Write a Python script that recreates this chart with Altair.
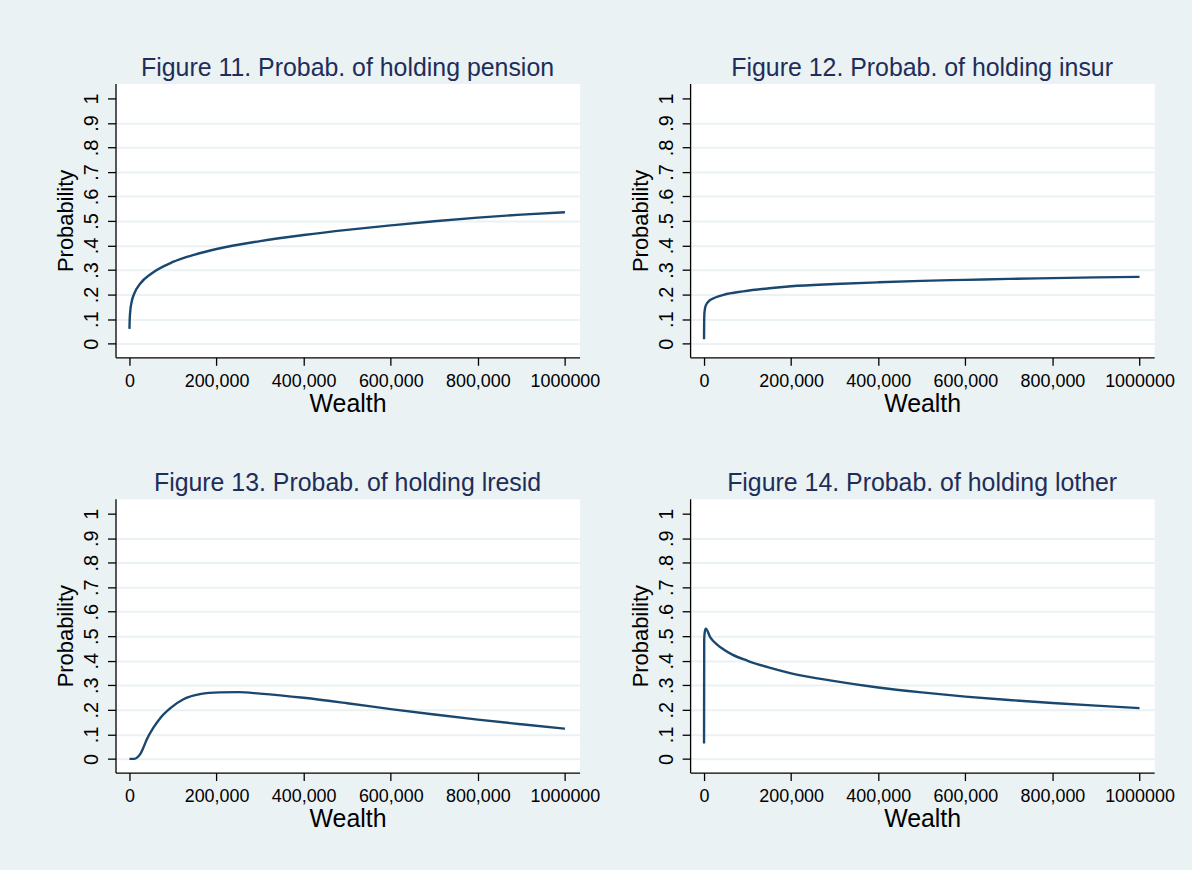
import altair as alt
import pandas as pd

# Predicted probabilities of holding each asset, by wealth
pension_wealth = [0, 500, 2000, 5000, 10000, 25000, 50000, 100000, 150000, 200000,
                  300000, 400000, 500000, 600000, 700000, 800000, 900000, 1000000]
pension_prob = [0.06, 0.095, 0.135, 0.17, 0.20, 0.245, 0.285, 0.333, 0.363, 0.386,
                0.418, 0.443, 0.464, 0.482, 0.499, 0.514, 0.526, 0.536]

insur_wealth = [0, 300, 1000, 4000, 13000, 26000, 45000, 90000, 150000, 200000,
                300000, 400000, 500000, 600000, 700000, 800000, 900000, 1000000]
insur_prob = [0.018, 0.09, 0.128, 0.156, 0.176, 0.188, 0.199, 0.213, 0.226, 0.234,
              0.243, 0.25, 0.256, 0.26, 0.264, 0.267, 0.27, 0.272]

lresid_wealth = [0, 11000, 18000, 25000, 32000, 40000, 55000, 71000, 94000, 124000,
                 162000, 208000, 250000, 300000, 400000, 500000, 600000, 700000,
                 800000, 900000, 1000000]
lresid_prob = [0, 0, 0.006, 0.02, 0.046, 0.08, 0.127, 0.167, 0.207, 0.243,
               0.264, 0.271, 0.272, 0.266, 0.249, 0.227, 0.203, 0.181,
               0.16, 0.141, 0.123]

lother_wealth = [0, 400, 1500, 4000, 14000, 30000, 45000, 65000, 100000, 150000,
                 200000, 300000, 400000, 500000, 600000, 700000, 800000, 900000, 1000000]
lother_prob = [0.063, 0.487, 0.515, 0.531, 0.497, 0.466, 0.446, 0.425, 0.400, 0.372,
               0.349, 0.317, 0.291, 0.271, 0.254, 0.24, 0.228, 0.217, 0.207]

titles = [
    "Figure 11. Probab. of holding pension",
    "Figure 12. Probab. of holding insur",
    "Figure 13. Probab. of holding lresid",
    "Figure 14. Probab. of holding lother",
]

x_ticks = [0, 200000, 400000, 600000, 800000, 1000000]
y_ticks = [0, 0.1, 0.2, 0.3, 0.4, 0.5, 0.6, 0.7, 0.8, 0.9, 1]

NAVY = "#1A476F"
GRID = "#EAF2F3"
BG = "#EAF2F3"
TITLE_COLOR = "#1E2D5A"
FONT = "Liberation Sans"


def panel(title, wealth, prob):
    df = pd.DataFrame({"Wealth": wealth, "Probability": prob})
    return (
        alt.Chart(df, title=alt.Title(title))
        .mark_line(color=NAVY, strokeWidth=2.4, interpolate="monotone")
        .encode(
            x=alt.X(
                "Wealth:Q",
                scale=alt.Scale(domain=[-32000, 1033600], nice=False, zero=False),
                axis=alt.Axis(
                    values=x_ticks,
                    grid=False,
                    title="Wealth",
                    labelExpr="datum.value >= 1000000 ? '1000000' : format(datum.value, ',')",
                ),
            ),
            y=alt.Y(
                "Probability:Q",
                scale=alt.Scale(domain=[-0.056, 1.061], nice=False, zero=False),
                axis=alt.Axis(
                    values=y_ticks,
                    grid=True,
                    gridColor=GRID,
                    gridWidth=2,
                    gridOpacity={"condition": {"test": "datum.value >= 1", "value": 0}, "value": 1},
                    title="Probability",
                    labelExpr="datum.value == 0 ? '0' : datum.value >= 1 ? '1' : "
                              "replace(format(datum.value, '.1f'), '0.', '.')",
                ),
            ),
        )
        .properties(width=466, height=275)
    )


chart = (
    alt.concat(
        panel(titles[0], pension_wealth, pension_prob),
        panel(titles[1], insur_wealth, insur_prob),
        panel(titles[2], lresid_wealth, lresid_prob),
        panel(titles[3], lother_wealth, lother_prob),
        columns=2,
        spacing={"row": 142, "column": 111},
        bounds="flush",
    )
    .configure(background=BG, padding={"left": 54, "top": 53, "right": 17, "bottom": 38})
    .configure_view(fill="white", stroke="transparent")
    .configure_axis(
        domainColor="black",
        domainWidth=1.3,
        tickColor="black",
        tickWidth=1.3,
        tickSize=8,
        labelFont=FONT,
        labelFontSize=18,
        labelColor="black",
        titleFont=FONT,
        titleFontWeight="normal",
        titleColor="black",
    )
    .configure_axisX(labelPadding=7, titleFontSize=25, titlePadding=1)
    .configure_axisY(
        labelPadding=10,
        labelFontSize=20,
        labelAngle=270,
        labelAlign="center",
        labelBaseline="alphabetic",
        titleFontSize=22,
        titlePadding=4,
    )
    .configure_title(
        font=FONT,
        fontSize=25,
        fontWeight="normal",
        color=TITLE_COLOR,
        anchor="middle",
        frame="group",
        offset=3,
    )
)

chart.save("out.html", embed_options={"renderer": "svg", "actions": False})
